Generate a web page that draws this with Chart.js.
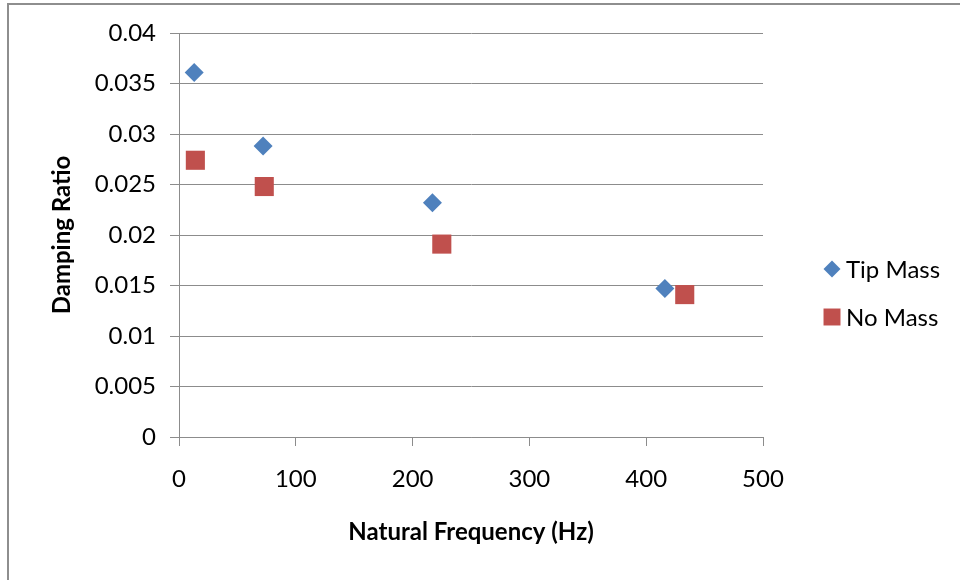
<!DOCTYPE html>
<html>
<head>
<meta charset="utf-8">
<script src="https://cdn.jsdelivr.net/npm/chart.js@4/dist/chart.umd.min.js"></script>
<style>
  html, body { margin: 0; padding: 0; background: #fff; overflow: hidden; }
  #wrap { position: relative; width: 960px; height: 580px; }
  #frame {
    position: absolute; left: 7px; top: 3px; width: 1000px; height: 1000px;
    border-left: 2px solid #8e8e8e; border-top: 2px solid #8e8e8e;
    pointer-events: none;
  }
</style>
</head>
<body>
<div id="wrap">
  <canvas id="chartDamping" width="960" height="580"></canvas>
  <div id="frame"></div>
</div>
<script>
// frequencies (Hz) and damping ratios for each configuration
const tipMassFreq = [13, 72, 217, 416];
const tipMassDamping = [0.0361, 0.0288, 0.0232, 0.0147];
const noMassFreq = [14, 73, 225, 433];
const noMassDamping = [0.0274, 0.0248, 0.0191, 0.0141];

const xTicks = [0, 100, 200, 300, 400, 500];
const yTicks = [0, 0.005, 0.01, 0.015, 0.02, 0.025, 0.03, 0.035, 0.04];

const seriesNames = ["Tip Mass", "No Mass"];

const toPoints = (xs, ys) => xs.map((x, i) => ({ x: x, y: ys[i] }));

const FONT = "Lato, 'Open Sans', sans-serif";
const GRID = "#8c8c8c";

// legend drawn on the right side, Excel style
const sideLegend = {
    id: "sideLegend",
    afterDraw(chart) {
        const ctx = chart.ctx;
        const x = 832, y0 = 269, gap = 48;
        chart.data.datasets.forEach((ds, i) => {
            const y = y0 + i * gap;
            ctx.save();
            ctx.fillStyle = ds.backgroundColor;
            ctx.strokeStyle = ds.backgroundColor;
            Chart.helpers.drawPoint(ctx, {
                pointStyle: ds.pointStyle,
                radius: ds.pointStyle === "rect" ? 12 : 8.5,
                rotation: 0,
                borderWidth: 0
            }, x, y);
            ctx.fillStyle = "#000";
            ctx.font = "24px " + FONT;
            ctx.textBaseline = "middle";
            ctx.textAlign = "left";
            ctx.fillText(ds.label, x + 14, y + 1);
            ctx.restore();
        });
    }
};

const ctx = document.getElementById("chartDamping");
const chartDamping = new Chart(ctx, {
    type: "scatter",
    data: {
        datasets: [
            {
                label: seriesNames[0],
                data: toPoints(tipMassFreq, tipMassDamping),
                pointStyle: "rectRot",
                pointRadius: 9.5,
                pointHoverRadius: 9.5,
                backgroundColor: "#4f81bd",
                borderColor: "#4f81bd",
                borderWidth: 0
            },
            {
                label: seriesNames[1],
                data: toPoints(noMassFreq, noMassDamping),
                pointStyle: "rect",
                pointRadius: 13.5,
                pointHoverRadius: 13.5,
                backgroundColor: "#c0504d",
                borderColor: "#c0504d",
                borderWidth: 0
            }
        ]
    },
    options: {
        responsive: false,
        animation: false,
        layout: { padding: { top: 33, right: 197, left: 0, bottom: 0 } },
        plugins: {
            legend: { display: false },
            tooltip: { enabled: false }
        },
        scales: {
            x: {
                type: "linear",
                min: 0,
                max: 500,
                afterBuildTicks: (scale) => { scale.ticks = xTicks.map(v => ({ value: v })); },
                afterFit: (scale) => { scale.height = 143; },
                grid: {
                    drawOnChartArea: false,
                    drawTicks: true,
                    tickLength: 9,
                    color: GRID
                },
                border: { display: true, color: GRID, width: 1 },
                ticks: {
                    color: "#000",
                    font: { family: FONT, size: 24 },
                    padding: 19,
                    maxRotation: 0
                },
                title: {
                    display: true,
                    text: "Natural Frequency (Hz)",
                    color: "#000",
                    font: { family: FONT, size: 24, weight: "bold" },
                    padding: { top: 20, bottom: 33 }
                }
            },
            y: {
                type: "linear",
                min: 0,
                max: 0.04,
                afterBuildTicks: (scale) => { scale.ticks = yTicks.map(v => ({ value: v })); },
                afterFit: (scale) => { scale.width = 179; },
                grid: {
                    drawOnChartArea: true,
                    drawTicks: true,
                    tickLength: 9,
                    color: GRID
                },
                border: { display: true, color: GRID, width: 1 },
                ticks: {
                    color: "#000",
                    font: { family: FONT, size: 24 },
                    padding: 14,
                    callback: (v) => String(parseFloat(v.toFixed(3)))
                },
                title: {
                    display: true,
                    text: "Damping Ratio",
                    color: "#000",
                    font: { family: FONT, size: 24, weight: "bold" },
                    padding: { top: 48, bottom: 0 }
                }
            }
        }
    },
    plugins: [sideLegend]
});
</script>
</body>
</html>
